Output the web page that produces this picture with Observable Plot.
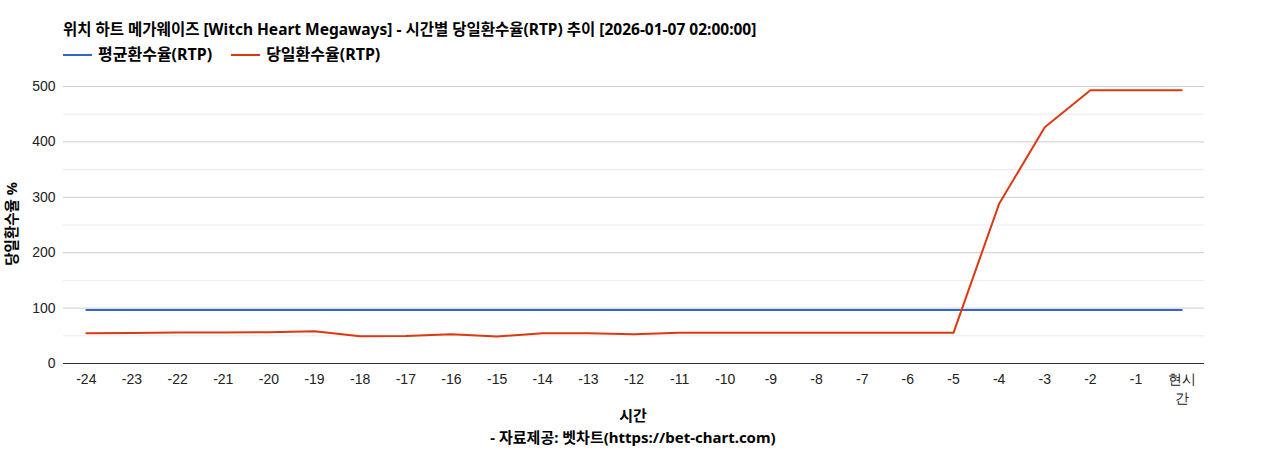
<!DOCTYPE html>
<html><head><meta charset="utf-8">
<script src="https://cdn.jsdelivr.net/npm/d3@7"></script>
<script src="https://cdn.jsdelivr.net/npm/@observablehq/plot@0.6"></script>
<style>
body{margin:0;background:#fff;width:1268px;height:450px;position:relative;overflow:hidden;font-family:"Noto Sans","Noto Sans CJK KR",sans-serif;}
.t{position:absolute;white-space:nowrap;color:#000;line-height:1.2;z-index:2;}
#title{left:63px;top:20px;font-size:15.5px;font-weight:bold;}
#legend{left:63px;top:45px;font-size:16px;font-weight:bold;display:flex;align-items:center;}
.sw{display:inline-block;width:29px;height:2px;margin-right:6px;}
.li{display:flex;align-items:center;margin-right:19px;}
#ytitle{left:12px;top:224px;font-size:14.5px;font-weight:bold;transform:translate(-50%,-50%) rotate(-90deg);}
#xtitle{left:633px;top:406px;font-size:15px;font-weight:bold;transform:translateX(-50%);}
#caption{left:633px;top:428px;font-size:15px;font-weight:bold;transform:translateX(-50%);}
#chart{position:absolute;left:0;top:70px;z-index:1;}
#chart svg text{font-family:"Liberation Sans",Arial,sans-serif;}
</style></head>
<body>
<div id="chart"></div>
<div id="title" class="t">위치 하트 메가웨이즈 [Witch Heart Megaways] - 시간별 당일환수율(RTP) 추이 [2026-01-07 02:00:00]</div>
<div id="legend" class="t"></div>
<div id="ytitle" class="t">당일환수율 %</div>
<div id="xtitle" class="t">시간</div>
<div id="caption" class="t">- 자료제공: 벳차트(https://bet-chart.com)</div>
<script>
const timeLabels = ["-24","-23","-22","-21","-20","-19","-18","-17","-16","-15","-14","-13","-12","-11","-10","-9","-8","-7","-6","-5","-4","-3","-2","-1","현시간"];
const avgRtp = [96.5,96.5,96.5,96.5,96.5,96.5,96.5,96.5,96.5,96.5,96.5,96.5,96.5,96.5,96.5,96.5,96.5,96.5,96.5,96.5,96.5,96.5,96.5,96.5,96.5];
const dailyRtp = [54.7,55,56,56,56.5,58.3,49.3,49.5,52.9,48.7,54.7,54.7,52.9,55.4,55.4,55.4,55.4,55.4,55.4,55.4,288.2,426.6,493.4,493.4,493.4];
const seriesNames = ["평균환수율(RTP)","당일환수율(RTP)"];
const seriesColors = ["#3366cc","#dc3912"];
const yMajorTicks = [0,100,200,300,400,500];
const yMinorTicks = [50,150,250,350,450];

const legend = document.getElementById("legend");
seriesNames.forEach((n,i)=>{
  const d=document.createElement("span");d.className="li";
  d.innerHTML=`<span class="sw" style="background:${seriesColors[i]}"></span>${n}`;
  legend.appendChild(d);
});

const rows = [];
timeLabels.forEach((t,i)=>{
  rows.push({t, v: avgRtp[i], s: seriesNames[0]});
  rows.push({t, v: dailyRtp[i], s: seriesNames[1]});
});

const chart = Plot.plot({
  width:1268, height:345,
  marginLeft:63, marginRight:64, marginTop:16, marginBottom:52,
  style:{fontSize:"14px", color:"#222", background:"transparent"},
  x:{type:"point", domain:timeLabels, padding:0.5, round:false, label:null},
  y:{domain:[0,500], label:null},
  color:{domain:seriesNames, range:seriesColors},
  marks:[
    Plot.gridY(yMinorTicks,{stroke:"#ebebeb", strokeOpacity:1}),
    Plot.gridY(yMajorTicks.slice(1),{stroke:"#cccccc", strokeOpacity:1}),
    Plot.axisY({ticks:yMajorTicks, tickSize:0, tickPadding:8, label:null}),
    Plot.axisX({tickSize:0, tickPadding:7, label:null, lineHeight:1.35, tickFormat:d=> d==="현시간" ? "현시\n간" : d}),
    Plot.line(rows,{x:"t", y:"v", z:"s", stroke:"s", strokeWidth:2}),
    Plot.ruleY([0],{stroke:"#333", strokeWidth:1})
  ]
});
document.getElementById("chart").appendChild(chart);
</script>
</body></html>
